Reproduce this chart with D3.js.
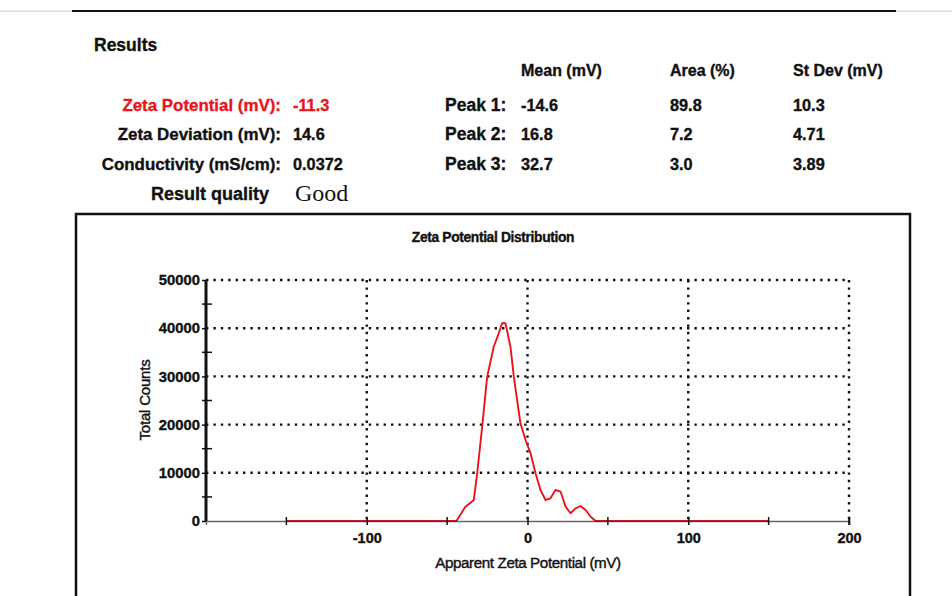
<!DOCTYPE html>
<html>
<head>
<meta charset="utf-8">
<script src="https://cdn.jsdelivr.net/npm/d3@7"></script>
<style>
  html, body { margin: 0; padding: 0; background: #fff; }
  svg { display: block; }
  text { font-family: "Liberation Sans", Arial, sans-serif; }
</style>
</head>
<body>
<svg id="chart" width="952" height="596"></svg>
<script>
// ---------- Data ----------
const summaryLabels = ["Zeta Potential (mV):", "Zeta Deviation (mV):", "Conductivity (mS/cm):"];
const summaryValues = ["-11.3", "14.6", "0.0372"];
const qualityLabel = "Result quality";
const qualityValue = "Good";

const peakLabels = ["Peak 1:", "Peak 2:", "Peak 3:"];
const peakHeaders = ["Mean (mV)", "Area (%)", "St Dev (mV)"];
const peakMean = ["-14.6", "16.8", "32.7"];
const peakArea = ["89.8", "7.2", "3.0"];
const peakStDev = ["10.3", "4.71", "3.89"];

const zeta = [-150, -44.2, -38.6, -33.4, -31.3, -28.2, -25.1, -21.0, -17.9, -15.8, -13.7, -10.6,
              -8.5, -4.4, -1.2, 1.9, 5.0, 8.1, 11.2, 14.3, 17.4, 20.6, 23.7, 26.8, 29.9, 33.0,
              36.1, 39.3, 42.4, 150];
const counts = [0, 0, 2970, 4360, 9900, 19560, 29900, 36160, 38940, 41020, 41020, 36160,
                29900, 20270, 16800, 14040, 9900, 6430, 4360, 4710, 6430, 6080, 2970, 1600, 2630, 3110,
                2280, 890, 0, 0];

const xTicks = [-100, 0, 100, 200];
const xMinorTicks = [-150, -50, 50, 150, 200];
const yTicks = [0, 10000, 20000, 30000, 40000, 50000];
const yMinorTicks = [5000, 15000, 25000, 35000, 45000];

const chartTitle = "Zeta Potential Distribution";
const xTitle = "Apparent Zeta Potential (mV)";
const yTitle = "Total Counts";

// ---------- Drawing ----------
const svg = d3.select("#chart");
const RED = "#e8151b";
const INK = "#111";

function boldText(sel, size, color) {
  return sel.attr("font-weight", "bold").attr("font-size", size).attr("fill", color)
    .attr("stroke", color).attr("stroke-width", 0.35);
}

// top rule
svg.append("line").attr("x1", 0).attr("x2", 952).attr("y1", 11).attr("y2", 11)
  .attr("stroke", "#e4e4e4").attr("stroke-width", 2);
svg.append("line").attr("x1", 72).attr("x2", 896).attr("y1", 11).attr("y2", 11)
  .attr("stroke", INK).attr("stroke-width", 2);

boldText(svg.append("text").attr("x", 94).attr("y", 51).text("Results"), 17.5, INK);

const rowY = [111, 140, 170];
summaryLabels.forEach((l, i) => {
  const c = i === 0 ? RED : INK;
  boldText(svg.append("text").attr("x", 281).attr("y", rowY[i]).attr("text-anchor", "end").text(l), 16.9, c);
  boldText(svg.append("text").attr("x", 293).attr("y", rowY[i]).text(summaryValues[i]), 16.3, c);
});
boldText(svg.append("text").attr("x", 269).attr("y", 200).attr("text-anchor", "end").text(qualityLabel), 18, INK);
svg.append("text").attr("x", 295).attr("y", 201)
  .style("font-family", "'Liberation Serif', 'Times New Roman', serif")
  .attr("font-size", 24).attr("fill", INK).text(qualityValue);

const colX = [521, 670, 793];
peakHeaders.forEach((h, j) => {
  boldText(svg.append("text").attr("x", colX[j]).attr("y", 76).text(h), 16, INK);
});
const cols = [peakMean, peakArea, peakStDev];
peakLabels.forEach((p, i) => {
  boldText(svg.append("text").attr("x", 445).attr("y", rowY[i]).text(p), 17.5, INK);
  cols.forEach((col, j) => {
    boldText(svg.append("text").attr("x", colX[j]).attr("y", rowY[i]).text(col[i]), 16.3, INK);
  });
});

// chart frame
svg.append("path").attr("d", "M76,620 V214 H910 V620")
  .attr("fill", "none").attr("stroke", INK).attr("stroke-width", 2.5);

boldText(svg.append("text").attr("x", 493).attr("y", 242).attr("text-anchor", "middle")
  .attr("letter-spacing", -0.35).text(chartTitle), 13.8, INK);

// scales
const x = d3.scaleLinear().domain([-200, 200]).range([206, 849]);
const y = d3.scaleLinear().domain([0, 50000]).range([521, 280]);

// grid
const grid = svg.append("g").attr("stroke", INK).attr("stroke-width", 2.4)
  .attr("stroke-dasharray", "2.4,5");
yTicks.filter(t => t > 0).forEach(t => {
  grid.append("line").attr("x1", x(-200)).attr("x2", x(200)).attr("y1", y(t)).attr("y2", y(t));
});
xTicks.forEach(t => {
  grid.append("line").attr("x1", x(t)).attr("x2", x(t)).attr("y1", y(50000)).attr("y2", y(0));
});

// data line
const line = d3.line().x((d, i) => x(zeta[i])).y(d => y(d));
svg.append("path").datum(counts).attr("d", line)
  .attr("fill", "none").attr("stroke", RED).attr("stroke-width", 1.9)
  .attr("stroke-linejoin", "round");

// x axis
const xAxis = svg.append("g").attr("transform", `translate(0,${y(0)})`)
  .call(d3.axisBottom(x).tickValues(xTicks).tickSize(4).tickPadding(8).tickFormat(d => String(d)));
xAxis.select(".domain").attr("stroke", "#333").attr("stroke-opacity", 0.75).attr("stroke-width", 1.4);
xAxis.selectAll(".tick line").attr("stroke", INK).attr("stroke-width", 1.5).attr("y1", -4);
xAxis.selectAll(".tick text").attr("font-family", "'Liberation Sans', Arial, sans-serif")
  .attr("font-size", 14.5).attr("font-weight", "bold").attr("fill", INK)
  .attr("stroke", INK).attr("stroke-width", 0.35);
xMinorTicks.forEach(t => {
  xAxis.append("line").attr("x1", x(t)).attr("x2", x(t)).attr("y1", -4).attr("y2", 4)
    .attr("stroke", INK).attr("stroke-width", 1.5);
});

// y axis
const yAxis = svg.append("g").attr("transform", `translate(${x(-200)},0)`)
  .call(d3.axisLeft(y).tickValues(yTicks).tickSize(4).tickPadding(2).tickFormat(d => String(d)));
yAxis.select(".domain").attr("stroke", INK).attr("stroke-width", 3).attr("d", `M0,${y(50000)}V${y(0)}`);
yAxis.selectAll(".tick line").attr("stroke", INK).attr("stroke-width", 1.5);
yAxis.selectAll(".tick text").attr("font-family", "'Liberation Sans', Arial, sans-serif")
  .attr("font-size", 14.8).attr("font-weight", "bold").attr("fill", INK)
  .attr("stroke", INK).attr("stroke-width", 0.35);
yMinorTicks.forEach(t => {
  yAxis.append("line").attr("x1", -4).attr("x2", 6).attr("y1", y(t)).attr("y2", y(t))
    .attr("stroke", INK).attr("stroke-width", 1.5);
});

// axis titles
svg.append("text").attr("transform", "translate(150,400) rotate(-90)").attr("text-anchor", "middle")
  .attr("font-size", 15).attr("fill", INK).attr("stroke", INK).attr("stroke-width", 0.4)
  .attr("letter-spacing", -0.2).text(yTitle);
svg.append("text").attr("x", 528).attr("y", 568).attr("text-anchor", "middle")
  .attr("font-size", 15.2).attr("fill", INK).attr("stroke", INK).attr("stroke-width", 0.4)
  .attr("letter-spacing", -0.4).text(xTitle);
</script>
</body>
</html>
